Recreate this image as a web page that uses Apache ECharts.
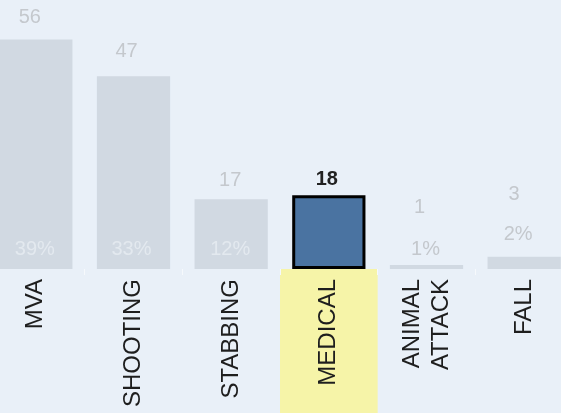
<!DOCTYPE html>
<html>
<head>
<meta charset="utf-8">
<script src="https://cdn.jsdelivr.net/npm/echarts@6/dist/echarts.min.js"></script>
<style>
html,body{margin:0;padding:0;background:#e9f0f8;overflow:hidden;width:561px;height:413px;}
#c{width:586px;height:413px;margin-left:-13px;}
</style>
</head>
<body>
<div id="c"></div>
<script>
const categories = ['MVA', 'SHOOTING', 'STABBING', 'MEDICAL', 'ANIMAL\nATTACK', 'FALL'];
const counts = [56, 47, 17, 18, 1, 3];
const percents = ['39%', '33%', '12%', '13%', '1%', '2%'];
const highlight = 'MEDICAL';

const hiIndex = categories.indexOf(highlight);
const grey = '#c4c8cd';

// label placement tweaks (style only)
const countShift = [-6, -7, -1, -2, -7, -10];
const countDist = [12, 15, 9, 6, 47, 52];
const pctShift = [-1, -2, -1, 0, -1, -6];

const barData = counts.map((v, i) => {
  const item = { value: v, label: { distance: countDist[i], offset: [countShift[i], 0] } };
  if (i === hiIndex) {
    item.itemStyle = { color: '#4a73a1', borderColor: '#000', borderWidth: 3 };
    item.label.color = '#222';
    item.label.fontWeight = 'bold';
  }
  return item;
});

const pctData = counts.map((v, i) => {
  const item = { value: v, label: { offset: [pctShift[i], 0] } };
  if (i === hiIndex) item.label.show = false;
  if (v === 1) item.label.color = grey;
  if (v === 3) Object.assign(item.label, { position: 'top', distance: 12, color: grey });
  return item;
});

const bandData = categories.map((c, i) => (i === hiIndex ? 1 : 0));

const chart = echarts.init(document.getElementById('c'));
chart.setOption({
  backgroundColor: '#e9f0f8',
  animation: false,
  grid: [
    { left: 0, right: 0, top: 23, bottom: 144, containLabel: false, outerBoundsMode: 'none' },
    { left: 0, right: 0, top: 269, bottom: 0, containLabel: false, outerBoundsMode: 'none' }
  ],
  xAxis: [
    {
      type: 'category', gridIndex: 0, data: categories, z: 10,
      axisLine: { show: false },
      axisTick: { show: true, length: 6, lineStyle: { color: '#f6f9fc' } },
      axisLabel: {
        rotate: 90, margin: 10, interval: 0, hideOverlap: false,
        fontFamily: 'Liberation Sans, Arial, sans-serif',
        fontSize: 24, lineHeight: 29, color: '#1e1e1e'
      }
    },
    { type: 'category', gridIndex: 1, data: categories, show: false }
  ],
  yAxis: [
    { type: 'value', gridIndex: 0, min: 0, max: 60, show: false, splitLine: { show: false } },
    { type: 'value', gridIndex: 1, min: 0, max: 1, show: false, splitLine: { show: false } }
  ],
  series: [
    {
      type: 'bar', xAxisIndex: 1, yAxisIndex: 1, data: bandData,
      barWidth: '100%', silent: true, z: 1,
      itemStyle: { color: '#f6f4a8' }
    },
    {
      type: 'bar', xAxisIndex: 0, yAxisIndex: 0, data: barData,
      barWidth: '75%', z: 3,
      itemStyle: { color: '#d1d9e2' },
      label: {
        show: true, position: 'top', color: grey,
        fontFamily: 'Liberation Sans, Arial, sans-serif', fontSize: 20,
        formatter: p => String(counts[p.dataIndex])
      }
    },
    {
      type: 'bar', xAxisIndex: 0, yAxisIndex: 0, data: pctData,
      barWidth: '75%', barGap: '-100%', z: 4, silent: true,
      itemStyle: { color: 'rgba(0,0,0,0)' },
      label: {
        show: true, position: 'insideBottom', distance: 10, color: '#e3e9ef',
        fontFamily: 'Liberation Sans, Arial, sans-serif', fontSize: 20,
        formatter: p => percents[p.dataIndex]
      }
    }
  ]
});
</script>
</body>
</html>
